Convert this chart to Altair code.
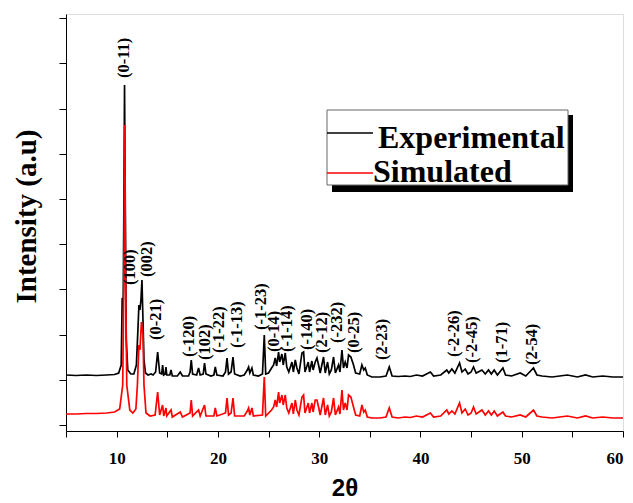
import altair as alt
import pandas as pd

# ---- Experimental pattern (2theta, intensity a.u.) ----
exp_x = [5.0, 6, 7, 8, 9, 9.8, 10.2, 10.45, 10.55, 10.65, 10.72, 10.78, 10.85, 10.95, 11.1, 11.4, 11.7,
         11.95, 12.1, 12.2, 12.3, 12.4, 12.5, 12.6, 12.7, 12.85, 13.1, 13.4, 13.6, 13.85, 14.05, 14.25,
         14.45, 14.54, 14.65, 14.8, 14.87, 14.95, 15.25, 15.37, 15.5, 16.0, 16.28, 16.5, 17.1, 17.25,
         17.37, 17.5, 17.9, 18.09, 18.25, 18.55, 18.68, 18.82, 19.3, 19.6, 19.74, 19.9, 20.5, 20.75,
         20.9, 21.05, 21.3, 21.49, 21.65, 22.2, 22.6, 22.9, 23.03, 23.15, 23.36, 23.5, 24.0, 24.4, 24.58,
         24.72, 25.0, 25.3, 25.5, 25.66, 25.8, 25.99, 26.1, 26.32, 26.45, 26.65, 26.8, 27.0, 27.31,
         27.45, 27.64, 27.8, 28.0, 28.3, 28.46, 28.6, 28.92, 29.05, 29.28, 29.4, 29.61, 29.78, 29.94,
         30.1, 30.43, 30.6, 30.83, 31.0, 31.2, 31.42, 31.6, 31.91, 32.05, 32.25, 32.4, 32.57, 32.75,
         32.9, 33.13, 33.39, 33.6, 34.0, 34.22, 34.4, 34.55, 34.75, 35.2, 36.0, 36.6, 36.92, 37.2, 37.8,
         38.5, 39.0, 39.6, 40.2, 40.98, 41.3, 42.0, 42.6, 42.8, 43.1, 43.4, 43.86, 44.1, 44.42, 44.7,
         45.0, 45.24, 45.5, 46.07, 46.4, 46.72, 47.0, 47.28, 47.6, 48.14, 48.4, 49.0, 49.85, 50.4,
         51.16, 51.5, 52.0, 53, 54.5, 55.5, 56.3, 57, 58, 59, 60]
exp_y = [50, 49.5, 50, 49.5, 50, 50.5, 52, 60, 127, 125, 225, 340, 225, 85, 55, 51, 51,
         60, 95, 120, 115, 125, 145, 105, 65, 52, 50, 51, 50, 53, 73, 52,
         51, 60, 50, 51, 58, 50, 50, 55, 49, 49, 53, 49, 49, 53,
         65, 51, 50, 57, 50, 51, 62, 51, 49, 50, 58, 50, 49, 53,
         67, 51, 53, 68, 51, 49, 50, 55, 58, 52, 57, 50, 49, 51, 90,
         51, 52, 57, 60, 67, 59, 73, 63, 71, 60, 72, 58, 53, 63,
         53, 65, 57, 51, 72, 73, 53, 63, 53, 64, 55, 63, 67, 60,
         52, 68, 52, 63, 51, 55, 68, 52, 60, 53, 75, 57, 63, 57,
         70, 68, 60, 52, 51, 60, 55, 57, 50, 48, 48, 49, 58, 49, 48.5,
         49, 48.5, 50, 49, 53, 49, 50, 55, 52, 56, 52, 62, 53, 56, 51,
         53, 58, 52, 55, 51, 55, 51, 55, 50, 57, 50, 49, 52, 49,
         57, 50, 49, 48, 50, 48, 50, 48, 49, 48, 48]

# ---- Simulated pattern ----
sim_x = [5.0, 6, 7, 8, 9, 9.8, 10.3, 10.6, 10.72, 10.8, 10.88, 11.0, 11.3, 11.6, 11.9, 12.05, 12.2,
         12.3, 12.45, 12.6, 12.7, 12.9, 13.3, 13.8, 14.05, 14.25, 14.54, 14.65, 14.87, 14.95, 15.37,
         15.5, 16.28, 16.5, 17.25, 17.37, 17.5, 18.09, 18.25, 18.68, 18.82, 19.6, 19.74, 19.9, 20.75,
         20.9, 21.05, 21.3, 21.49, 21.65, 22.6, 22.9, 23.03, 23.15, 23.36, 23.5, 24.4, 24.58, 24.72,
         25.3, 25.5, 25.66, 25.8, 25.99, 26.1, 26.32, 26.45, 26.65, 26.8, 27.0, 27.31, 27.45, 27.64,
         27.8, 28.0, 28.3, 28.46, 28.6, 28.92, 29.05, 29.28, 29.4, 29.61, 29.78, 29.94, 30.1, 30.43,
         30.6, 30.83, 31.0, 31.2, 31.42, 31.6, 31.91, 32.05, 32.25, 32.4, 32.57, 32.75, 32.9, 33.13,
         33.39, 33.6, 34.0, 34.22, 34.4, 34.55, 34.75, 35.2, 36.0, 36.6, 36.92, 37.2, 37.8, 38.5, 39.0,
         39.6, 40.2, 40.98, 41.3, 42.0, 42.6, 42.8, 43.1, 43.4, 43.86, 44.1, 44.42, 44.7, 45.0, 45.24,
         45.5, 46.07, 46.4, 46.72, 47.0, 47.28, 47.6, 48.14, 48.4, 49.0, 49.85, 50.4, 51.16, 51.5,
         52.0, 53, 54.5, 55.5, 56.3, 57, 58, 59, 60]
sim_y = [11, 11, 11.5, 11.5, 12, 13, 16, 40, 150, 300, 150, 40, 15, 12, 16, 40, 80,
         75, 103, 90, 40, 12, 9, 10, 33, 10, 20, 9, 17, 9, 15,
         8, 13, 8, 12, 25, 9, 15, 9, 20, 9, 9, 17, 9, 12,
         27, 10, 12, 27, 9, 9, 14, 17, 10, 17, 9, 10, 48, 9,
         15, 18, 25, 18, 33, 22, 30, 20, 30, 17, 12, 22, 11, 25,
         15, 10, 28, 30, 12, 22, 12, 22, 13, 25, 25, 18, 10, 27,
         10, 20, 9, 13, 27, 10, 18, 11, 35, 15, 22, 15, 30, 28,
         18, 10, 9, 20, 13, 15, 8, 7, 7, 8, 17, 8, 7, 8, 7.5,
         9, 8, 12, 8, 9, 15, 11, 14, 11, 22, 12, 16, 10, 12, 18,
         11, 15, 10, 14, 10, 14, 9, 13, 9, 8, 10, 8, 15, 9,
         8, 7, 9, 7, 9, 7, 8, 7, 7]

# ---- Peak (hkl) labels ----
lab_text = ["(0-11)", "(100)", "(002)", "(0-21)", "(-120)", "(102)", "(-1-22)", "(-1-13)",
            "(-1-23)", "(0-14)", "(-1-14)", "(-140)", "(2-12)", "(-232)", "(0-25)", "(2-23)",
            "(-2-26)", "(-2-45)", "(1-71)", "(2-54)"]
lab_x = [10.76, 11.28, 13.0, 13.91, 17.1, 18.75, 20.13, 21.88, 24.28, 25.57, 26.82, 28.79,
         30.27, 31.75, 33.39, 36.19, 43.36, 45.08, 48.04, 51.06]
lab_y = [347, 140, 148, 85, 68, 65, 72, 77, 95, 73, 73, 75, 72, 82, 72, 65, 68, 62, 62, 60]

series_names = ["Experimental", "Simulated"]
series_colors = ["black", "red"]

df = pd.concat([
    pd.DataFrame({"x": exp_x, "y": exp_y, "series": series_names[0], "order": range(len(exp_x))}),
    pd.DataFrame({"x": sim_x, "y": sim_y, "series": series_names[1], "order": range(len(sim_x))}),
])
labels_df = pd.DataFrame({"x": lab_x, "y": lab_y, "text": lab_text})

W, H = 557, 417
xscale = alt.Scale(domain=[5, 60], nice=False, zero=False)
yscale = alt.Scale(domain=[-6, 411], nice=False, zero=False)
cscale = alt.Scale(domain=series_names, range=series_colors)

xaxis = alt.Axis(values=list(range(5, 61, 5)),
                 labelExpr="datum.value % 10 === 0 ? datum.label : ''",
                 labelFont="Liberation Serif", labelFontWeight="bold", labelFontSize=17,
                 labelColor="black", labelPadding=13, tickSize=6, tickColor="black",
                 domainColor="black", grid=False,
                 title="2θ", titleFont="Liberation Sans", titleFontWeight="bold", titleFontSize=24,
                 titleColor="black", titleX=W / 2, titleY=57, titleBaseline="middle")
yaxis = alt.Axis(values=[k * 22.6 for k in range(19)], labels=False, tickSize=7,
                 tickColor="black", domainColor="black", grid=False,
                 title="Intensity (a.u)", titleFont="Liberation Serif", titleFontWeight="bold",
                 titleFontSize=29, titleColor="black", titleAngle=270, titleX=-40, titleY=202,
                 titleBaseline="middle", titleAlign="center")

lines = alt.Chart(df).mark_line(strokeWidth=1.7, clip=True).encode(
    x=alt.X("x:Q", scale=xscale, axis=xaxis),
    y=alt.Y("y:Q", scale=yscale, axis=yaxis),
    color=alt.Color("series:N", scale=cscale, legend=None),
    order="order:Q",
    detail="series:N",
)

peak_labels = alt.Chart(labels_df).mark_text(
    angle=270, align="left", baseline="middle", font="Liberation Serif",
    fontWeight="bold", fontSize=16.5, color="black"
).encode(x="x:Q", y="y:Q", text="text:N")

# ---- legend box (decoration) ----
shadow = alt.Chart(pd.DataFrame({"a": [0]})).mark_rect(color="black").encode(
    x=alt.value(266), x2=alt.value(507), y=alt.value(101), y2=alt.value(178))
box = alt.Chart(pd.DataFrame({"a": [0]})).mark_rect(fill="white", stroke="#666", strokeWidth=1).encode(
    x=alt.value(261), x2=alt.value(502), y=alt.value(96), y2=alt.value(171))
leg_line1 = alt.Chart(pd.DataFrame({"a": [0]})).mark_rule(strokeWidth=1.5).encode(
    x=alt.value(261), x2=alt.value(307), y=alt.value(119), color=alt.datum(series_names[0]))
leg_line2 = alt.Chart(pd.DataFrame({"a": [0]})).mark_rule(strokeWidth=1.5).encode(
    x=alt.value(261), x2=alt.value(307), y=alt.value(159), color=alt.datum(series_names[1]))
leg_txt1 = alt.Chart(pd.DataFrame({"t": [series_names[0]]})).mark_text(
    align="left", baseline="alphabetic", font="Liberation Serif", fontWeight="bold",
    fontSize=32, color="black").encode(x=alt.value(312), y=alt.value(134), text="t:N")
leg_txt2 = alt.Chart(pd.DataFrame({"t": [series_names[1]]})).mark_text(
    align="left", baseline="alphabetic", font="Liberation Serif", fontWeight="bold",
    fontSize=32, color="black").encode(x=alt.value(307), y=alt.value(168), text="t:N")

chart = alt.layer(lines, peak_labels, shadow, box, leg_line1, leg_line2, leg_txt1, leg_txt2).properties(
    width=W, height=H,
    autosize=alt.AutoSizeParams(type="none"),
    padding={"left": 58, "top": 6, "right": 2, "bottom": 72},
).configure_view(stroke="#555", strokeWidth=1.5).configure(background="white")

chart.save("out.html", embed_options={"renderer": "svg", "actions": False})
